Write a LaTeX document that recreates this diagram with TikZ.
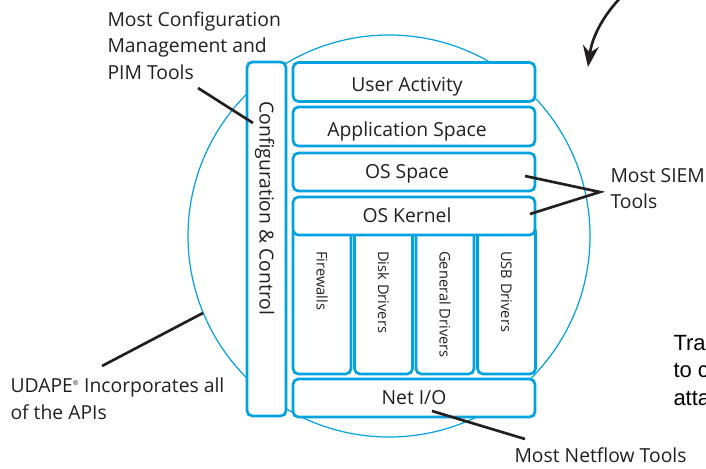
\documentclass[tikz,border=0pt]{standalone}
\usepackage{fontspec}
\setmainfont{Open Sans}
\newfontfamily\tracefont{Liberation Sans}
\usetikzlibrary{arrows.meta}
\definecolor{layerblue}{RGB}{0,162,224}
\definecolor{inkgray}{RGB}{35,31,32}

\tikzset{every picture/.style={line width=0.75pt}}
\tikzset{
  layer/.style={draw=layerblue, line width=2pt, rounded corners=4pt, fill=white, inner sep=0pt, minimum width=181.5pt},
  driver/.style={layer, minimum width=43.5pt, minimum height=111pt},
  layertext/.style={font=\fontsize{14.5}{17}\selectfont, text=inkgray, inner sep=0pt, text height=10.4pt, text depth=0pt},
  drivertext/.style={font=\fontsize{11}{13}\selectfont, text=inkgray, inner sep=0pt, rotate=-90, anchor=west},
  note/.style={font=\fontsize{14.5}{19.75}\selectfont, text=inkgray, align=left, inner sep=0pt},
  tracetext/.style={font=\tracefont\fontsize{16.5}{20.6}\selectfont, align=left, inner sep=0pt},
  lead/.style={draw=inkgray, line width=2pt},
  ring/.style={draw=layerblue, line width=0.9pt},
  bigarrow/.style={draw=inkgray, line width=2pt, -{Stealth[length=16pt, width=12pt]}}
}

\begin{document}
\begin{tikzpicture}[x=0.75pt,y=0.75pt,yscale=-1,xscale=1]
\useasboundingbox (0,0) rectangle (706,468);

%Shape: Circle
\draw[ring] (389,236) circle [radius=201];

%Shape: Rectangle (drivers, under the kernel)
\node[driver] (firewall) at (322,300) {};
\node[driver] (diskdrv) at (383.5,300) {};
\node[driver] (gendrv) at (445,300) {};
\node[driver] (usbdrv) at (506.5,300) {};

%Shape: Rectangle (layers)
\node[layer, minimum height=29.25pt] (useract) at (414,82) {};
\node[layer, minimum height=29.25pt] (appspace) at (414,126.5) {};
\node[layer, minimum height=28.5pt] (osspace) at (414,172) {};
\node[layer, minimum height=28.5pt] (oskernel) at (414,216) {};
\node[layer, minimum height=28.5pt] (netio) at (414,398) {};
\node[layer, minimum width=29.25pt, minimum height=265.5pt] (cfgctl) at (266.5,239) {};

% Text Node
\node[layertext] (useracttext) at ([xshift=-5.25pt,yshift=2pt]useract.center) {User Activity};
% Text Node
\node[layertext] (appspacetext) at ([xshift=-5.25pt,yshift=2pt]appspace.center) {Application Space};
% Text Node
\node[layertext] (osspacetext) at ([xshift=-5.25pt]osspace.center) {OS Space};
% Text Node
\node[layertext] (oskerneltext) at ([xshift=-5.25pt]oskernel.center) {OS Kernel};
% Text Node
\node[layertext] (netiotext) at (netio.center) {Net I/O};
% Text Node
\node[layertext, rotate=-90] (cfgtext) at ([yshift=-23pt]cfgctl.center) {Configuration \& Control};
% Text Node
\node[drivertext] (firewalltext) at ([yshift=19.5pt]firewall.north) {Firewalls};
% Text Node
\node[drivertext] (diskdrvtext) at ([yshift=19.5pt]diskdrv.north) {Disk Drivers};
% Text Node
\node[drivertext] (gendrvtext) at ([yshift=19.5pt]gendrv.north) {General Drivers};
% Text Node
\node[drivertext] (usbdrvtext) at ([yshift=19.5pt]usbdrv.north) {USB Drivers};

% Text Node (base = last line)
\node[note, anchor=base west] (cfgnote) at (107,79.3) {Most Configuration\\Management and\\PIM Tools};
% Text Node
\node[note, anchor=base west] (siemnote) at (610,208.5) {Most SIEM\\Tools};
% Text Node
\node[note, anchor=base west] (udapenote) at (10,419) {UDAPE\textsuperscript{\tiny ®} Incorporates all\\of the APIs};
% Text Node
\node[note, anchor=base west] (netflownote) at (514,462) {Most Netflow Tools};
% Text Node
\node[tracetext, anchor=base west] (tracenote) at (673,405) {Tra\\to c\\atta};

%Straight Lines
\coordinate (cfgtip) at (198,88);
\coordinate (cfgend) at (253,123);
\draw[lead] (cfgtip) -- (cfgend);
%Straight Lines
\coordinate (siemtip) at (600,192);
\coordinate (osspaceend) at (525,176);
\coordinate (oskernelend) at (530,214);
\draw[lead] (osspaceend) -- (siemtip) -- (oskernelend);
%Straight Lines
\coordinate (udapetip) at (102,366);
\coordinate (ringend) at (203,313);
\draw[lead] (udapetip) -- (ringend);
%Straight Lines
\coordinate (netioend) at (432,411);
\coordinate (netflowtip) at (525,439);
\draw[lead] (netioend) -- (netflowtip);

%Curve Lines
\coordinate (arrstart) at (624,-6);
\coordinate (arrtip) at (588,67);
\draw[bigarrow] (arrstart) .. controls (602,16) and (592,38) .. (arrtip);

\end{tikzpicture}
\end{document}
